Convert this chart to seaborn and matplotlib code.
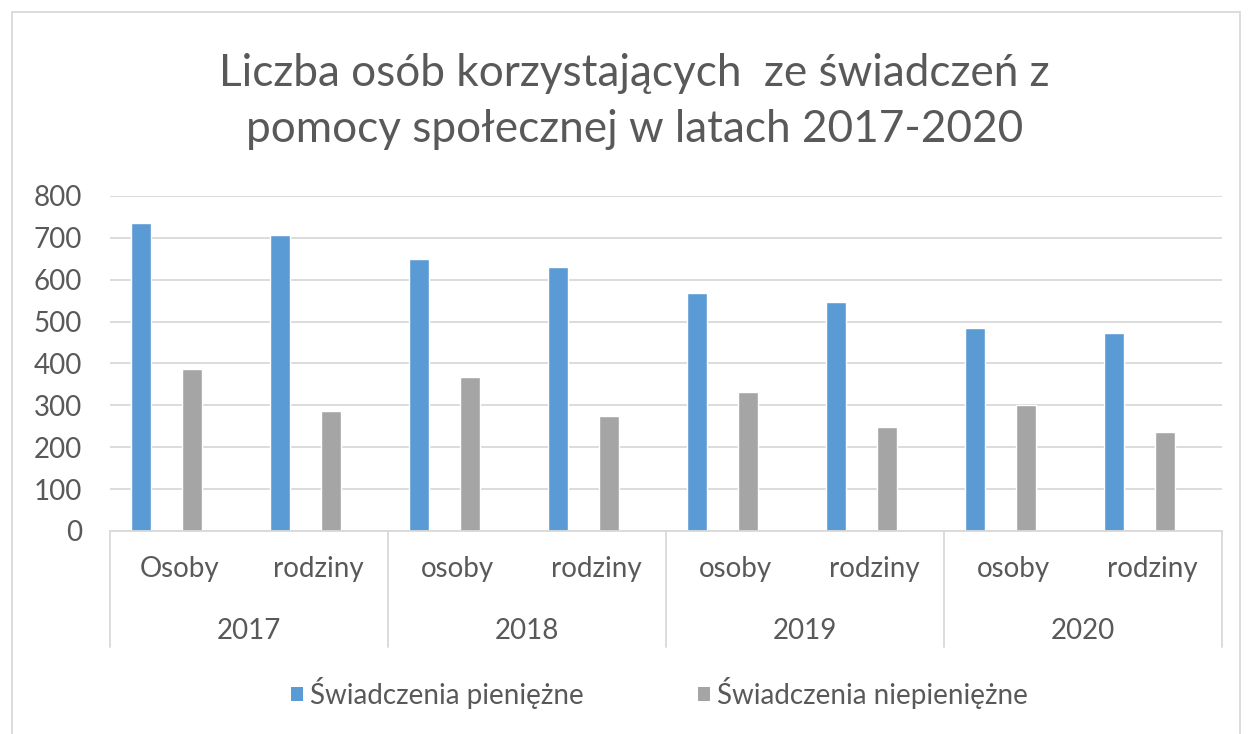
import matplotlib
matplotlib.use("Agg")
import matplotlib.pyplot as plt
import matplotlib.transforms as mtransforms
from matplotlib.patches import Rectangle, Patch
import pandas as pd
import seaborn as sns

years = ["2017", "2018", "2019", "2020"]
groups = ["Osoby", "rodziny", "osoby", "rodziny", "osoby", "rodziny", "osoby", "rodziny"]
series = ["Świadczenia pieniężne", "Świadczenia niepieniężne"]
pieniezne = [735, 708, 650, 630, 569, 546, 484, 472]
niepieniezne = [387, 287, 368, 275, 333, 249, 302, 237]

colors = ["#5B9BD5", "#A5A5A5"]
txt = "#595959"
grid = "#D9D9D9"

slots = [f"{y}_{i}" for y in years for i in range(2)]
df = pd.DataFrame({
    "slot": slots * 2,
    "value": pieniezne + niepieniezne,
    "series": [series[0]] * 8 + [series[1]] * 8,
})

sns.set_style("white")
plt.rcParams["font.family"] = ["Lato", "DejaVu Sans"]

fig = plt.figure(figsize=(12.49, 7.34), dpi=100)
ax = fig.add_axes([0.0881, 0.2766, 0.8903, 0.4564])

sns.barplot(data=df, x="slot", y="value", hue="series", order=slots,
            hue_order=series, palette=colors, width=0.74, gap=0.61,
            errorbar=None, legend=False, ax=ax, saturation=1)

shift = 0.095
ax.set_xlim(-0.5 + shift, 7.5 + shift)
ax.set_ylim(0, 800)
ax.set_yticks(range(0, 801, 100))
ax.yaxis.grid(True, color=grid, linewidth=1.3)
ax.set_axisbelow(True)
for s in ["top", "right", "left"]:
    ax.spines[s].set_visible(False)
ax.spines["bottom"].set_color(grid)
ax.spines["bottom"].set_linewidth(1.3)
ax.set_xlabel("")
ax.set_ylabel("")
ax.tick_params(axis="y", length=0, pad=20, labelsize=20, labelcolor=txt)

# category labels (two-level axis)
ax.set_xticks([i + shift for i in range(8)])
ax.set_xticklabels(groups)
ax.tick_params(axis="x", length=0, pad=18, labelsize=20, labelcolor=txt)

trans = mtransforms.blended_transform_factory(ax.transData, ax.transAxes)
for k in range(5):
    xb = -0.5 + shift + 2 * k
    ax.plot([xb, xb], [0, -0.346], transform=trans, color=grid,
            linewidth=1.3, clip_on=False)
for k, y in enumerate(years):
    ax.text(2 * k + 0.5 + shift, -0.30, y, transform=trans, ha="center",
            va="center", fontsize=20, color=txt)

fig.suptitle("Liczba osób korzystających  ze świadczeń z\npomocy społecznej w latach 2017-2020",
             x=0.508, y=0.862, va="center", fontsize=31.8,
             color=txt, linespacing=1.45)

handles = [Patch(facecolor=c, edgecolor="none") for c in colors]
fig.legend(handles, series, loc="center", bbox_to_anchor=(0.528, 0.056),
           ncol=2, frameon=False, fontsize=20, labelcolor=txt,
           handlelength=0.45, handleheight=0.45, handletextpad=0.25,
           columnspacing=4.1)

fig.patches.append(Rectangle((12 / 1249, -0.01), 1228 / 1249, 1 - 12 / 734 + 0.01,
                             transform=fig.transFigure, fill=False,
                             edgecolor=grid, linewidth=1.3))

fig.savefig("out.png", dpi=100)
